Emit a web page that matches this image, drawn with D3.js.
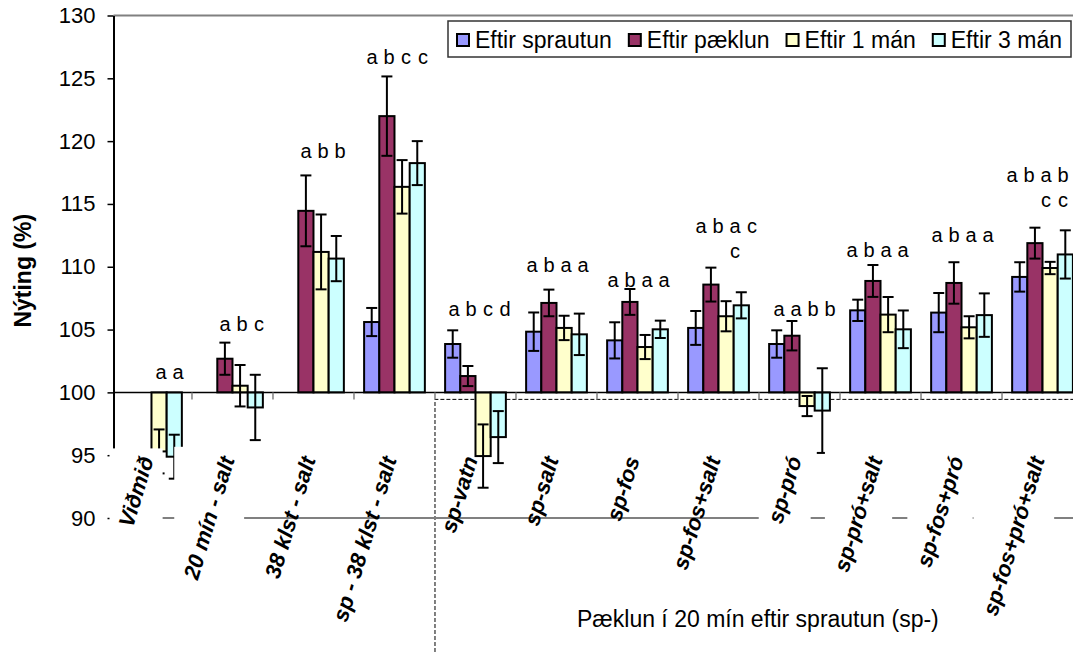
<!DOCTYPE html>
<html>
<head>
<meta charset="utf-8">
<script src="https://cdn.jsdelivr.net/npm/d3@7"></script>
<style>
  body { margin: 0; background: #fff; }
  svg { display: block; }
  text { font-family: "Liberation Sans", Arial, sans-serif; fill: #000; }
</style>
</head>
<body>
<svg id="chart" width="1073" height="653"></svg>
<script>
// ---- data ----------------------------------------------------------------
const categories = [
  "Viðmið", "20 mín - salt", "38 klst - salt", "sp - 38 klst - salt",
  "sp-vatn", "sp-salt", "sp-fos", "sp-fos+salt",
  "sp-pró", "sp-pró+salt", "sp-fos+pró", "sp-fos+pró+salt"
];
const seriesNames = ["Eftir sprautun", "Eftir pæklun", "Eftir 1 mán", "Eftir 3 mán"];

// Nýting (%) per treatment, one array per measurement time (null = not measured)
const eftirSprautun = [null, null, null, 105.6, 103.85, 104.83, 104.14, 105.13, 103.85, 106.53, 106.35, 109.19];
const eftirPaeklun  = [null, 102.68, 114.45, 121.99, 101.3, 107.12, 107.2, 108.58, 104.51, 108.87, 108.71, 111.88];
const eftir1Man     = [95.3, 100.53, 111.18, 116.36, 94.93, 105.13, 103.61, 106.06, 98.91, 106.19, 105.18, 109.9];
const eftir3Man     = [94.88, 98.8, 110.65, 118.25, 96.44, 104.62, 105.02, 106.93, 98.55, 105.02, 106.15, 110.98];

// standard errors
const errSprautun = [null, null, null, 1.12, 1.09, 1.53, 1.44, 1.35, 1.09, 0.85, 1.56, 1.17];
const errPaeklun  = [null, 1.28, 2.82, 3.16, 0.8, 1.06, 1.03, 1.35, 1.17, 1.27, 1.65, 1.23];
const err1Man     = [1.75, 1.65, 2.98, 2.13, 2.52, 0.97, 0.96, 1.2, 0.8, 1.4, 0.88, 0.49];
const err3Man     = [1.75, 2.6, 1.8, 1.75, 2.07, 1.65, 0.69, 1.04, 3.37, 1.5, 1.73, 1.92];

// significance letters per bar (stacked top to bottom) and the level they sit at
const sigLetters = [
  [null, null, "a", "a"],
  [null, "a", "b", "c"],
  [null, "a", "b", "b"],
  ["a", "b", "c", "c"],
  ["a", "b", "c", "d"],
  ["a", "b", "a", "a"],
  ["a", "b", "a", "a"],
  ["a", "b", "ac", "c"],
  ["a", "a", "b", "b"],
  ["a", "b", "a", "a"],
  ["a", "b", "a", "a"],
  ["a", "b", "ac", "bc"]
];
const sigLevel = [101.5, 105.3, 119.1, 126.6, 106.5, 110.0, 108.8, 113.1, 106.5, 111.2, 112.4, 117.2];

const yTicks = [90, 95, 100, 105, 110, 115, 120, 125, 130];
const yTitle = "Nýting (%)";
const groupTitle = "Pæklun í 20 mín eftir sprautun (sp-)";

// ---- styling / layout --------------------------------------------------------
const colors = ["#9999FF", "#993366", "#FFFFCC", "#CCFFFF"];
const opaqueLabels = new Set(["Viðmið", "20 mín - salt", "sp-pró", "sp-pró+salt", "sp-fos+pró", "sp-fos+pró+salt"]);
// hand placement of some letter blocks (px)
const letterNudge = { "sp - 38 klst - salt": 2, "sp-vatn": 3, "sp-fos+salt": 7, "sp-pró": 4, "sp-pró+salt": -4, "sp-fos+pró": 0, "sp-fos+pró+salt": -6 };

const W = 1073, H = 653;
const left = 113.5;
const svg = d3.select("#chart");

const values = [eftirSprautun, eftirPaeklun, eftir1Man, eftir3Man];
const errors = [errSprautun, errPaeklun, err1Man, err3Man];

const y = d3.scaleLinear().domain([90, 130]).range([518, 15.5]);
const x = d3.scaleBand().domain(categories).range([113, 1081])
  .paddingInner(0.25).paddingOuter(0.1);
const xs = d3.scaleBand().domain(d3.range(seriesNames.length)).range([0, x.bandwidth()]);

const rows = [];
categories.forEach((c, gi) => {
  values.forEach((arr, si) => {
    if (arr[gi] != null) rows.push({ c, gi, si, v: arr[gi], e: errors[si][gi] });
  });
});

// dashed frame around the sp- treatments
const frameX = x(categories[4]) - x.step() * x.paddingInner() / 2;
svg.append("path")
  .attr("d", `M${frameX},${H + 5} V${y(100) + 7} H${W + 5}`)
  .attr("fill", "none").attr("stroke", "#000").attr("stroke-width", 1)
  .attr("stroke-dasharray", "4,2");

// plot area border (top and bottom)
const border = svg.append("g").attr("stroke", "#808080").attr("stroke-width", 2);
border.append("line").attr("x1", left).attr("x2", W).attr("y1", y(130)).attr("y2", y(130));
border.append("line").attr("x1", left).attr("x2", W).attr("y1", y(90)).attr("y2", y(90));

// bars
const base = y(100);
svg.append("g").selectAll("rect").data(rows).join("rect")
  .attr("x", d => x(d.c) + xs(d.si))
  .attr("width", xs.bandwidth())
  .attr("y", d => Math.min(base, y(d.v)))
  .attr("height", d => Math.abs(y(d.v) - base))
  .attr("fill", d => colors[d.si])
  .attr("stroke", "#000").attr("stroke-width", 2);

// error bars
const capW = 11;
const eb = svg.append("g").attr("stroke", "#000").attr("stroke-width", 2);
rows.forEach(d => {
  const cx = x(d.c) + xs(d.si) + xs.bandwidth() / 2;
  const y1 = y(d.v + d.e), y2 = y(d.v - d.e);
  eb.append("line").attr("x1", cx).attr("x2", cx).attr("y1", y1).attr("y2", y2);
  eb.append("line").attr("x1", cx - capW / 2).attr("x2", cx + capW / 2).attr("y1", y1).attr("y2", y1);
  eb.append("line").attr("x1", cx - capW / 2).attr("x2", cx + capW / 2).attr("y1", y2).attr("y2", y2);
});

// category axis crossing at 100
const catAxis = svg.append("g");
catAxis.append("line").attr("x1", left).attr("x2", W).attr("y1", base).attr("y2", base)
  .attr("stroke", "#000").attr("stroke-width", 1.5);
categories.slice(1).forEach(c => {
  const tx = x(c) - x.step() * x.paddingInner() / 2;
  catAxis.append("line").attr("x1", tx).attr("x2", tx).attr("y1", base).attr("y2", base + 7)
    .attr("stroke", "#808080").attr("stroke-width", 1.5);
});

// value axis
const yAxis = svg.append("g").attr("transform", `translate(${left},0)`)
  .call(d3.axisLeft(y).tickValues(yTicks).tickSize(6).tickSizeOuter(0).tickPadding(12));
yAxis.select(".domain").attr("stroke", "#000").attr("stroke-width", 2);
yAxis.selectAll(".tick line").attr("stroke", "#000").attr("stroke-width", 1.5);
yAxis.selectAll(".tick text").attr("font-size", 22).attr("font-family", '"Liberation Sans", Arial, sans-serif');

// category labels (some sit on an opaque white box)
const boxLayer = svg.append("g");
const labelLayer = svg.append("g");
const svgRect = svg.node().getBoundingClientRect();
categories.forEach(c => {
  const cx = x(c) + x.bandwidth() / 2 - 5;
  const t = labelLayer.append("text")
    .attr("transform", `translate(${cx},457) rotate(-73)`)
    .attr("text-anchor", "end")
    .attr("dy", "0.35em")
    .attr("font-size", 22).attr("font-weight", "bold").attr("font-style", "italic")
    .text(c);
  if (opaqueLabels.has(c)) {
    const b = t.node().getBoundingClientRect();
    const padX = 4, padY = 5;
    boxLayer.append("rect")
      .attr("x", b.left - svgRect.left - padX).attr("y", b.top - svgRect.top - padY)
      .attr("width", b.width + 2 * padX).attr("height", b.height + 2 * padY)
      .attr("fill", "#fff");
  }
});

// significance letters
const letterLayer = svg.append("g").attr("font-size", 20).attr("text-anchor", "middle");
sigLetters.forEach((grp, gi) => {
  const c = categories[gi];
  const gc = x(c) + x.bandwidth() / 2 + (letterNudge[c] || 0);
  grp.forEach((s, i) => {
    if (!s) return;
    s.split("").forEach((ch, j) => {
      letterLayer.append("text")
        .attr("x", gc + (i - 1.5) * 17 + 1)
        .attr("y", y(sigLevel[gi]) + 5.5 + j * 25)
        .text(ch);
    });
  });
});

// axis titles
svg.append("text")
  .attr("transform", `translate(31,${(y(130) + y(90)) / 2 + 4}) rotate(-90)`)
  .attr("text-anchor", "middle").attr("font-size", 23).attr("font-weight", "bold")
  .text(yTitle);
svg.append("text").attr("x", 577).attr("y", 627).attr("font-size", 23).text(groupTitle);

// legend
const lg = svg.append("g");
const lgX = 448, lgY = 21, lgW = 623, lgH = 36;
lg.append("rect").attr("x", lgX).attr("y", lgY).attr("width", lgW).attr("height", lgH)
  .attr("fill", "#fff").attr("stroke", "#333").attr("stroke-width", 1.5);
const items = seriesNames.map((name, i) => {
  const g = lg.append("g");
  g.append("rect").attr("width", 12).attr("height", 12).attr("y", -6)
    .attr("fill", colors[i]).attr("stroke", "#000").attr("stroke-width", 2);
  const t = g.append("text").attr("x", 18).attr("dy", "0.35em").attr("font-size", 23).text(name);
  return { g, w: 18 + t.node().getComputedTextLength() };
});
const total = d3.sum(items, d => d.w);
const gap = (lgW - 18 - total) / (items.length - 1);
let cursor = lgX + 9;
items.forEach(it => {
  it.g.attr("transform", `translate(${cursor},${lgY + lgH / 2 + 1})`);
  cursor += it.w + gap;
});
</script>
</body>
</html>
